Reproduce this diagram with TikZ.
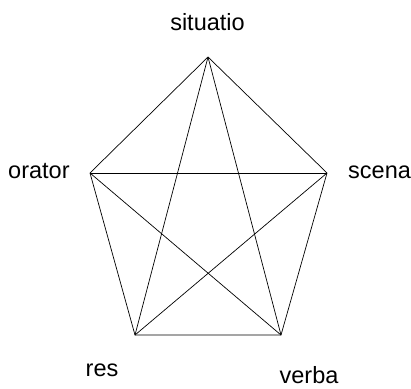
\documentclass[tikz,border=0pt]{standalone}
\usepackage{fontspec}
\setmainfont{Liberation Sans}
\begin{document}
\begin{tikzpicture}[
    x=1pt, y=-1pt,
    label/.style={inner sep=0pt, font=\fontsize{23.5}{28}\selectfont},
    edge/.style={line width=0.7pt, line join=miter}
]
    \useasboundingbox (0,0) rectangle (411,388);

    \coordinate (situatio) at (208,57);
    \coordinate (orator) at (90,173);
    \coordinate (scena) at (327,173);
    \coordinate (res) at (135,335);
    \coordinate (verba) at (281,335);

    \node[label, anchor=base] (situatiotext) at (207.5,30) {situatio};
    \node[label, anchor=base west] (oratortext) at (8,178) {orator};
    \node[label, anchor=base west] (scenatext) at (348,178) {scena};
    \node[label, anchor=base] (restext) at (102,376) {res};
    \node[label, anchor=base] (verbatext) at (309,383) {verba};

    \draw[edge] (situatio) -- (orator) -- (res) -- (verba) -- (scena) -- cycle;
    \draw[edge] (situatio) -- (res);
    \draw[edge] (situatio) -- (verba);
    \draw[edge] (orator) -- (scena);
    \draw[edge] (orator) -- (verba);
    \draw[edge] (scena) -- (res);
\end{tikzpicture}
\end{document}
